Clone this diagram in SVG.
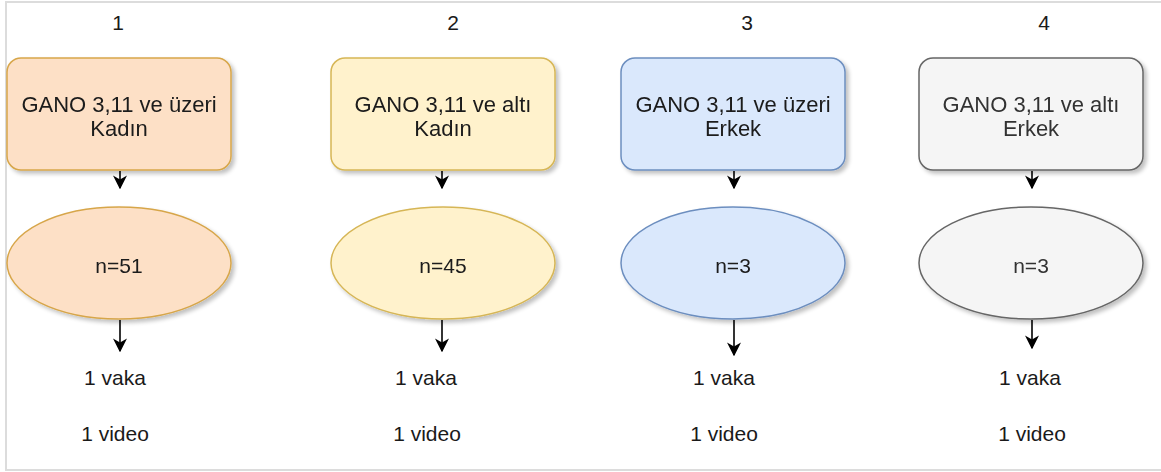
<svg xmlns="http://www.w3.org/2000/svg" width="1161" height="472" viewBox="0 0 1161 472">
<defs>
<filter id="sh" x="-10%" y="-10%" width="130%" height="140%">
<feGaussianBlur in="SourceAlpha" stdDeviation="2"/>
<feOffset dx="3" dy="3"/>
<feComponentTransfer><feFuncA type="linear" slope="0.25"/></feComponentTransfer>
<feMerge><feMergeNode/><feMergeNode in="SourceGraphic"/></feMerge>
</filter>
<marker id="ah" viewBox="0 0 10 10" refX="9" refY="5" markerWidth="14" markerHeight="14" markerUnits="userSpaceOnUse" orient="auto">
<path d="M0,0 L10,5 L0,10 L3,5 Z" fill="#000"/>
</marker>
</defs>
<style>
text{font-family:"Liberation Sans",Arial,sans-serif;font-size:21px;fill:#1a1a1a;text-anchor:middle}
.bx text{font-size:22px}
.c1{fill:#fde0c6;stroke:#d7a64a;stroke-width:1.5}
.c2{fill:#fff2cc;stroke:#d6b656;stroke-width:1.5}
.c3{fill:#dae8fc;stroke:#6c8ebf;stroke-width:1.5}
.c4{fill:#f5f5f5;stroke:#666666;stroke-width:1.5}
.g4 text{fill:#333333}
.conn line{stroke:#000;stroke-width:1.6;marker-end:url(#ah)}
</style>
<rect x="0" y="0" width="1161" height="472" fill="#ffffff"/>
<rect x="6" y="2" width="1160" height="468" fill="none" stroke="#dcdcdc" stroke-width="2"/>
<g id="labels">
<text x="118" y="30">1</text>
<text x="453" y="30">2</text>
<text x="747" y="30">3</text>
<text x="1044" y="30">4</text>
</g>
<g id="box1" class="bx" filter="url(#sh)"><rect class="c1" x="7" y="58" width="224" height="112" rx="14"/><text x="119" y="112">GANO 3,11 ve üzeri</text><text x="119" y="136">Kadın</text></g>
<g id="box2" class="bx" filter="url(#sh)"><rect class="c2" x="331" y="58" width="224" height="112" rx="14"/><text x="443" y="112">GANO 3,11 ve altı</text><text x="443" y="136">Kadın</text></g>
<g id="box3" class="bx" filter="url(#sh)"><rect class="c3" x="621" y="58" width="224" height="112" rx="14"/><text x="733" y="112">GANO 3,11 ve üzeri</text><text x="733" y="136">Erkek</text></g>
<g id="box4" class="bx g4" filter="url(#sh)"><rect class="c4" x="919" y="58" width="224" height="112" rx="14"/><text x="1031" y="112">GANO 3,11 ve altı</text><text x="1031" y="136">Erkek</text></g>
<g id="ell1" filter="url(#sh)"><ellipse class="c1" cx="119" cy="263" rx="112" ry="56"/><text x="119" y="273">n=51</text></g>
<g id="ell2" filter="url(#sh)"><ellipse class="c2" cx="443" cy="263" rx="112" ry="56"/><text x="443" y="273">n=45</text></g>
<g id="ell3" filter="url(#sh)"><ellipse class="c3" cx="733" cy="263" rx="112" ry="56"/><text x="733" y="273">n=3</text></g>
<g id="ell4" class="g4" filter="url(#sh)"><ellipse class="c4" cx="1031" cy="263" rx="112" ry="56"/><text x="1031" y="273">n=3</text></g>
<g id="out1"><text x="115" y="385">1 vaka</text><text x="115" y="441">1 video</text></g>
<g id="out2"><text x="426" y="385">1 vaka</text><text x="427" y="441">1 video</text></g>
<g id="out3"><text x="724" y="385">1 vaka</text><text x="724" y="441">1 video</text></g>
<g id="out4"><text x="1030" y="385">1 vaka</text><text x="1032" y="441">1 video</text></g>
<g id="connectors" class="conn">
<line x1="120" y1="171" x2="120" y2="188"/>
<line x1="442" y1="171" x2="442" y2="188"/>
<line x1="734" y1="171" x2="734" y2="188"/>
<line x1="1032" y1="171" x2="1032" y2="188"/>
<line x1="120" y1="320" x2="120" y2="351"/>
<line x1="442" y1="320" x2="442" y2="351"/>
<line x1="734" y1="320" x2="734" y2="355"/>
<line x1="1032" y1="320" x2="1032" y2="348"/>
</g>
</svg>
